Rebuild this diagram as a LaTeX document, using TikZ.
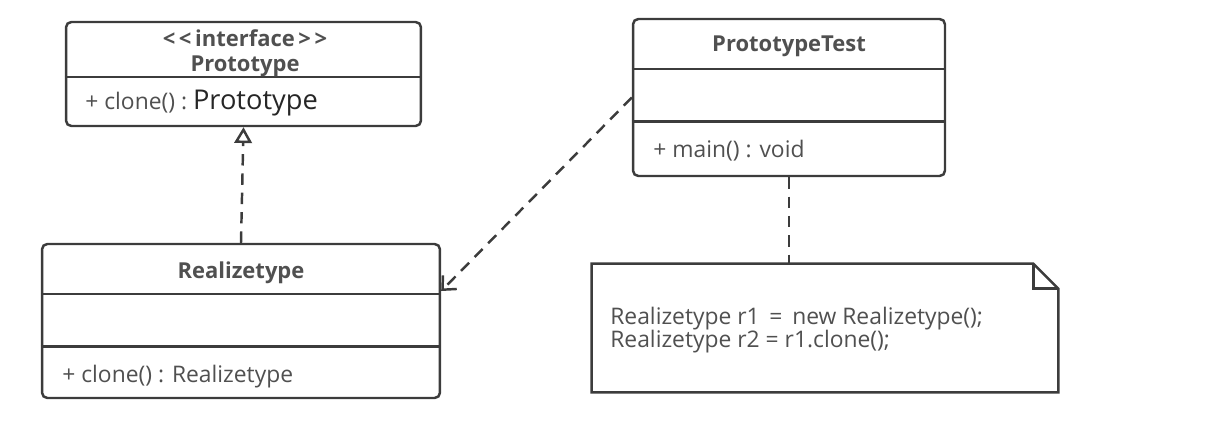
\documentclass[tikz,border=0pt]{standalone}
\usepackage{fontspec}
\setmainfont{Open Sans}
\usepackage{xcolor}
\usetikzlibrary{arrows.meta, positioning, calc}

\definecolor{umlline}{HTML}{3C3C3C}
\definecolor{umltext}{HTML}{505050}

\begin{document}
\begin{tikzpicture}[x=0.02cm, y=-0.02cm,
    cls/.style={rectangle, draw=umlline, line width=1.4pt, rounded corners=3pt, fill=white},
    divider/.style={draw=umlline, line width=1.4pt},
    title/.style={font=\bfseries\fontsize{12.5}{14}\selectfont, text=umltext, align=center, inner sep=0pt},
    member/.style={font=\fontsize{13}{13}\selectfont, text=umltext, anchor=west, inner sep=0pt},
    notebox/.style={rectangle, minimum width=9.32cm, minimum height=2.56cm},
    link/.style={draw=umlline, line width=1.4pt, dash pattern=on 6.5pt off 4.5pt}
]
    \useasboundingbox (0,0) rectangle (1212,432);

    % classes
    \node[cls, minimum width=7.1cm, minimum height=2.08cm] (proto) at (243.5,74) {};
    \node[cls, minimum width=6.24cm, minimum height=3.14cm] (test) at (789,97.5) {};
    \node[cls, minimum width=7.96cm, minimum height=3.08cm] (realize) at (241,321) {};

    \draw[divider] (proto.west |- 0,77) -- (proto.east |- 0,77);
    \draw[divider] (test.west |- 0,69) -- (test.east |- 0,69);
    \draw[divider] (test.west |- 0,121.5) -- (test.east |- 0,121.5);
    \draw[divider] (realize.west |- 0,294) -- (realize.east |- 0,294);
    \draw[divider] (realize.west |- 0,346.5) -- (realize.east |- 0,346.5);

    \node[title] (protoname) at (245,53) {<\,<\,interface\,>\,>\\Prototype};
    \node[member] (protoclone) at (85,103) {+ clone() :\ {\fontsize{15.5}{16}\selectfont\color{black!85}Prototype}};
    \node[title] (testname) at (789,46.5) {PrototypeTest};
    \node[member] (testmain) at (653,151) {+ main() : void};
    \node[title] (realizename) at (241,273) {Realizetype};
    \node[member] (realizeclone) at (62,377) {+ clone() : Realizetype};

    % note
    \node[notebox] (note) at (825,328) {};
    \draw[umlline, line width=1.4pt, fill=white] (note.north west) -- ($(note.north east)+(-25,0)$)
        -- ($(note.north east)+(0,25)$) -- (note.south east) -- (note.south west) -- cycle;
    \draw[umlline, line width=1.4pt] ($(note.north east)+(-25,0)$) -- ($(note.north east)+(-25,25)$)
        -- ($(note.north east)+(0,25)$);
    \node[member, align=left] (notetext) at (610,330) {Realizetype r1 \,=\, new Realizetype();\\Realizetype r2 = r1.clone();};

    % connectors
    \draw[link, -{Triangle[open, length=9pt, width=10pt]}] (realize.north) -- (proto.south);
    \draw[link, -{Straight Barb[length=6pt, width=11pt]}] (test.west) -- ($(realize.east)+(0,-30)$);
    \draw[link] (test.south) -- (test.south |- note.north);
\end{tikzpicture}
\end{document}
